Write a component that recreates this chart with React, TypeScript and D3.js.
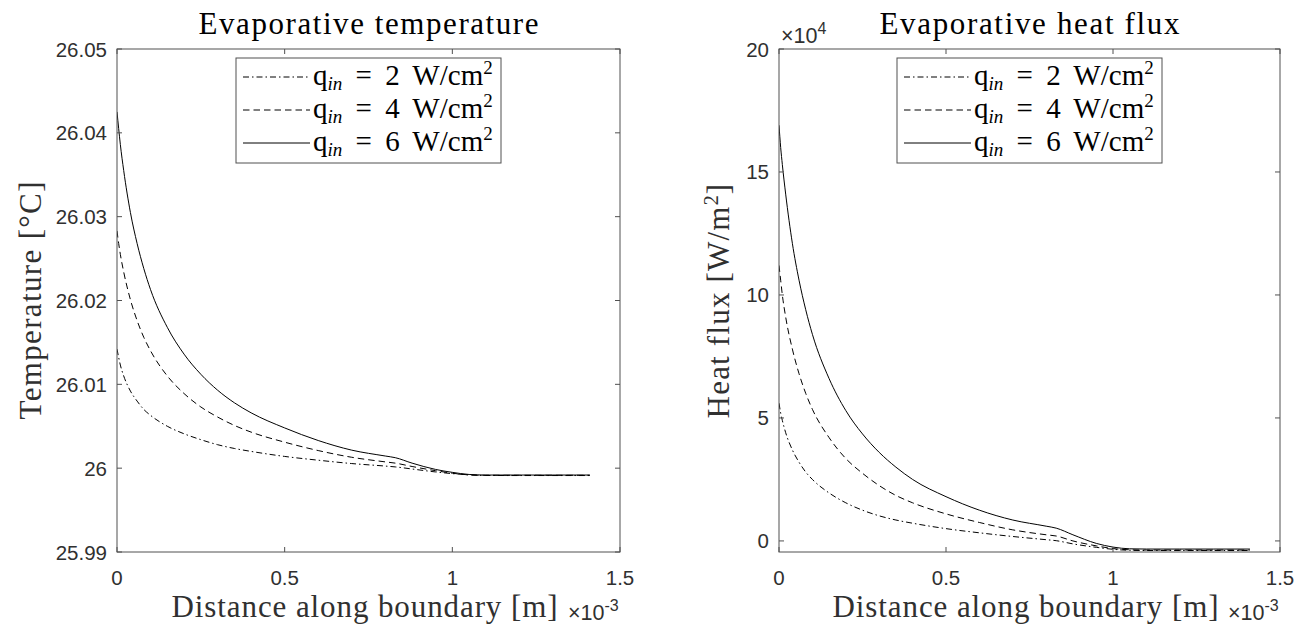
import React from "react";
import * as d3 from "d3";

// ---- data ----
const xs = [0, 0.005, 0.01, 0.02, 0.04, 0.06, 0.08, 0.1, 0.15, 0.2, 0.25, 0.3, 0.35, 0.4, 0.5, 0.6, 0.7, 0.8, 0.83, 0.88, 0.95, 1.0, 1.05, 1.1, 1.2, 1.3, 1.41];

const tempQ2 = [26.0142, 26.0132, 26.0123, 26.011, 26.0092, 26.008, 26.007, 26.0063, 26.005, 26.0041, 26.0034, 26.0028, 26.00235, 26.002, 26.0014, 26.00095, 26.00055, 26.00025, 26.00015, 25.9999, 25.99955, 25.99935, 25.9992, 25.99913, 25.99912, 25.99912, 25.99912];
const tempQ4 = [26.0283, 26.0268, 26.0255, 26.0234, 26.0201, 26.0176, 26.0156, 26.014, 26.011, 26.0089, 26.0073, 26.0061, 26.0051, 26.0043, 26.0031, 26.0021, 26.0013, 26.00075, 26.0006, 26.0002, 25.9997, 25.9994, 25.9992, 25.99915, 25.99915, 25.99915, 25.99915];
const tempQ6 = [26.0425, 26.0405, 26.0386, 26.0355, 26.0305, 26.0268, 26.0238, 26.0213, 26.0168, 26.0136, 26.0112, 26.0093, 26.0078, 26.0066, 26.0048, 26.0033, 26.00215, 26.00145, 26.00125, 26.0006, 25.99985, 25.9995, 25.99925, 25.99918, 25.99918, 25.99918, 25.99918];

const fluxQ2 = [5.6, 5.2, 4.9, 4.4, 3.7, 3.2, 2.8, 2.5, 1.95, 1.55, 1.25, 1.02, 0.85, 0.72, 0.5, 0.33, 0.18, 0.05, 0.01, -0.12, -0.26, -0.34, -0.38, -0.39, -0.39, -0.39, -0.39];
const fluxQ4 = [11.2, 10.6, 10.0, 9.1, 7.8, 6.8, 6.0, 5.35, 4.2, 3.35, 2.75, 2.25, 1.85, 1.55, 1.1, 0.75, 0.45, 0.25, 0.2, 0.0, -0.2, -0.31, -0.36, -0.37, -0.37, -0.37, -0.37];
const fluxQ6 = [16.9, 16.0, 15.3, 14.1, 12.1, 10.6, 9.4, 8.4, 6.6, 5.3, 4.35, 3.6, 3.0, 2.5, 1.8, 1.25, 0.85, 0.6, 0.52, 0.25, -0.1, -0.25, -0.32, -0.33, -0.33, -0.33, -0.33];

const legendQ = ["2", "4", "6"];
const xTicks = [0, 0.5, 1, 1.5];
const xTickLabels = ["0", "0.5", "1", "1.5"];
const tempTicks = [25.99, 26, 26.01, 26.02, 26.03, 26.04, 26.05];
const tempTickLabels = ["25.99", "26", "26.01", "26.02", "26.03", "26.04", "26.05"];
const fluxTicks = [0, 5, 10, 15, 20];
const fluxTickLabels = ["0", "5", "10", "15", "20"];

const dashes = ["6,3,1.5,3", "6.5,4", "none"];

const SERIF = "'Liberation Serif', 'Times New Roman', serif";
const SANS = "'Liberation Sans', Arial, Helvetica, sans-serif";
const AX = "#505050";
const TXT = "#303030";

type PanelProps = {
  left: number;
  right: number;
  top: number;
  bottom: number;
  yDomain: [number, number];
  yTicks: number[];
  yTickLabels: string[];
  series: number[][];
  title: string;
  titleLen: number;
  ylabel: React.ReactNode;
  ylabelX: number;
  ylabelLen?: number;
  ylabelSpacing?: number;
  yExp?: boolean;
};

function Panel(p: PanelProps) {
  const x = d3.scaleLinear().domain([0, 1.5]).range([p.left, p.right]);
  const y = d3.scaleLinear().domain(p.yDomain).range([p.bottom, p.top]);
  const line = d3
    .line<number>()
    .x((_, i) => x(xs[i]))
    .y((v) => y(v))
    .curve(d3.curveMonotoneX);
  const tl = 5;
  const cx = (p.left + p.right) / 2;
  const cy = (p.top + p.bottom) / 2;
  const legW = 265;
  const legL = cx - legW / 2;
  const legT = p.top + 9;
  const rowH = 33;
  return (
    <g>
      <clipPath id={`clip${p.left}`}>
        <rect x={p.left} y={p.top} width={p.right - p.left} height={p.bottom - p.top} />
      </clipPath>
      <g clipPath={`url(#clip${p.left})`}>
        {p.series.map((s, i) => (
          <path key={i} d={line(s) || ""} fill="none" stroke="#000" strokeWidth={1} strokeDasharray={dashes[i]} />
        ))}
      </g>
      <rect x={p.left} y={p.top} width={p.right - p.left} height={p.bottom - p.top} fill="none" stroke={AX} strokeWidth={1} />
      {xTicks.map((t, i) => (
        <g key={"x" + i}>
          <line x1={x(t)} x2={x(t)} y1={p.bottom} y2={p.bottom - tl} stroke={AX} />
          <line x1={x(t)} x2={x(t)} y1={p.top} y2={p.top + tl} stroke={AX} />
          <text x={x(t)} y={p.bottom + 33} textAnchor="middle" fontFamily={SANS} fontSize={20.5} fill={TXT}>
            {xTickLabels[i]}
          </text>
        </g>
      ))}
      {p.yTicks.map((t, i) => (
        <g key={"y" + i}>
          <line x1={p.left} x2={p.left + tl} y1={y(t)} y2={y(t)} stroke={AX} />
          <line x1={p.right} x2={p.right - tl} y1={y(t)} y2={y(t)} stroke={AX} />
          <text x={p.left - 10} y={y(t) + 7.5} textAnchor="end" fontFamily={SANS} fontSize={20.5} fill={TXT}>
            {p.yTickLabels[i]}
          </text>
        </g>
      ))}
      {p.yExp && (
        <text x={p.left + 2} y={p.top - 6} fontFamily={SANS} fontSize={21.5} fill={TXT}>
          ×10<tspan dy={-9} fontSize={16}>4</tspan>
        </text>
      )}
      <text x={p.right - 52} y={p.bottom + 68} fontFamily={SANS} fontSize={21.5} fill={TXT}>
        ×10<tspan dy={-9} fontSize={16}>-3</tspan>
      </text>
      <text
        x={cx}
        y={p.top - 15}
        textAnchor="middle"
        fontFamily={SERIF}
        fontSize={31}
        fill="#000"
        textLength={p.titleLen}
        lengthAdjust="spacing"
      >
        {p.title}
      </text>
      <text
        x={cx - 4}
        y={p.bottom + 65}
        textAnchor="middle"
        fontFamily={SERIF}
        fontSize={31}
        fill={TXT}
        textLength={386}
        lengthAdjust="spacing"
      >
        Distance along boundary [m]
      </text>
      <text
        transform={`translate(${p.ylabelX},${cy}) rotate(-90)`}
        textAnchor="middle"
        fontFamily={SERIF}
        fontSize={31}
        fill={TXT}
        textLength={p.ylabelLen}
        letterSpacing={p.ylabelSpacing}
        lengthAdjust="spacing"
      >
        {p.ylabel}
      </text>
      <rect x={legL} y={legT} width={legW} height={rowH * 3 + 6} fill="#fff" stroke={AX} strokeWidth={1} />
      {legendQ.map((q, i) => {
        const ly = legT + 19 + i * rowH;
        return (
          <g key={"l" + i}>
            <line x1={legL + 7} x2={legL + 74} y1={ly} y2={ly} stroke="#000" strokeWidth={1} strokeDasharray={dashes[i]} />
            <text x={legL + 77} y={ly + 8} fontFamily={SERIF} fontSize={29} fill="#000" wordSpacing={6}>
              q<tspan dy={5} fontSize={19} fontStyle="italic">in</tspan>
              <tspan dy={-5}>{` = ${q} W/cm`}</tspan>
              <tspan dy={-11} fontSize={19}>2</tspan>
            </text>
          </g>
        );
      })}
    </g>
  );
}

export default function App() {
  return (
    <div style={{ position: "absolute", left: 0, top: 0 }}>
      <svg width={1307} height={627} style={{ display: "block", background: "#fff" }}>
        <Panel
          left={117}
          right={620}
          top={49}
          bottom={552}
          yDomain={[25.99, 26.05]}
          yTicks={tempTicks}
          yTickLabels={tempTickLabels}
          series={[tempQ2, tempQ4, tempQ6]}
          title="Evaporative temperature"
          titleLen={340}
          ylabel={<>Temperature [°C]</>}
          ylabelX={41}
          ylabelLen={238}
        />
        <Panel
          left={779}
          right={1280}
          top={49}
          bottom={552}
          yDomain={[-0.45, 20]}
          yTicks={fluxTicks}
          yTickLabels={fluxTickLabels}
          series={[fluxQ2, fluxQ4, fluxQ6]}
          title="Evaporative heat flux"
          titleLen={300}
          ylabel={
            <>
              Heat flux [W/m<tspan dy={-11} fontSize={20}>2</tspan>
              <tspan dy={11}>]</tspan>
            </>
          }
          ylabelX={729}
          ylabelSpacing={1.2}
          yExp
        />
      </svg>
    </div>
  );
}
